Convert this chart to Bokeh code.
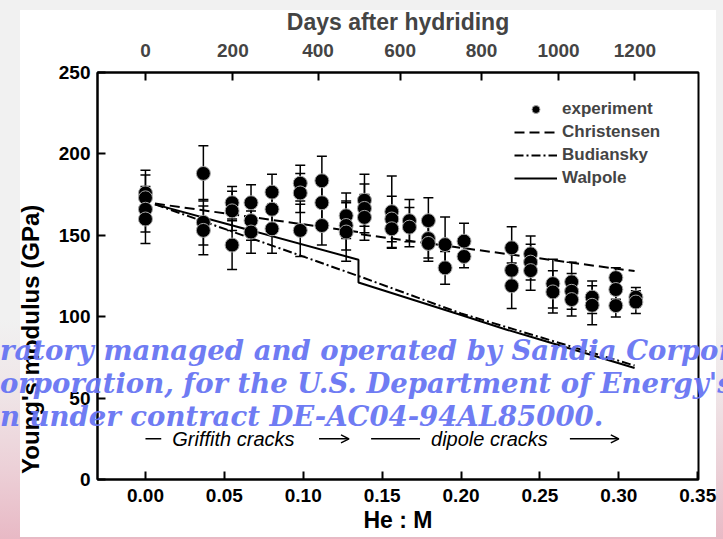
from bokeh.plotting import figure
from bokeh.layouts import column
from bokeh.models import (Range1d, LinearAxis, FixedTicker, Whisker, ColumnDataSource,
                          Legend, LegendItem, Label, Arrow, OpenHead, TeeHead,
                          NumeralTickFormatter, Div)
from bokeh.embed import file_html
from bokeh.resources import INLINE

# ---------------- data ----------------
# experiment: He:M ratio, Young's modulus (GPa) and error (GPa)
exp_x = [0.0, 0.0, 0.0, 0.0,
         0.0367, 0.0367, 0.0367,
         0.0549, 0.0549, 0.0549,
         0.0669, 0.0669, 0.0669,
         0.0802, 0.0802, 0.0802,
         0.0981, 0.0981, 0.0981,
         0.1118, 0.1118, 0.1118,
         0.1272, 0.1272, 0.1272,
         0.1388, 0.1388, 0.1388,
         0.1561, 0.1561, 0.1561,
         0.1673, 0.1673,
         0.1793, 0.1793, 0.1793,
         0.1899, 0.1899,
         0.2019, 0.2019,
         0.2321, 0.2321, 0.2321,
         0.2441, 0.2441, 0.2441,
         0.2582, 0.2582,
         0.2701, 0.2701, 0.2701,
         0.2831, 0.2831,
         0.2981, 0.2981, 0.2981,
         0.3108, 0.3108]
exp_E = [176, 173, 166, 160,
         188, 158, 153,
         170, 165, 144,
         170, 159, 152,
         176.5, 166, 154,
         182, 176, 153,
         183.5, 170, 156,
         162, 156, 152,
         171.5, 166.5, 161,
         164.5, 160, 154,
         159, 155,
         159, 148, 145,
         144.3, 130,
         146.4, 137,
         142.3, 128.5, 119,
         138.6, 133.5, 128.3,
         120.3, 115.2,
         121.4, 115.6, 110.5,
         112, 107,
         124, 116.7, 106.8,
         112, 109]
exp_err = [14, 14, 14, 15,
           17, 14, 15,
           10, 12, 15,
           11, 12, 13,
           11, 12, 15,
           11, 12, 16,
           15, 13, 12,
           14, 15, 18,
           16, 15, 14,
           22, 14, 12,
           13, 12,
           14, 12, 11,
           17, 10,
           11, 7,
           13, 12, 14,
           11, 11, 12,
           15, 13,
           12, 11, 10,
           10, 12,
           6, 6, 7,
           6, 7]

# model curves
chr_x = [0.006, 0.135, 0.135, 0.310]
chr_y = [169.5, 152.0, 150.8, 128.0]
bud_x = [0.006, 0.135, 0.200, 0.310]
bud_y = [169.0, 125.0, 102.0, 70.0]
wal_x = [0.006, 0.135, 0.135, 0.149, 0.200, 0.229, 0.250, 0.310]
wal_y = [169.0, 135.0, 121.0, 116.7, 101.0, 92.0, 86.0, 68.5]

# ticks
hem_ticks = [0.0, 0.05, 0.10, 0.15, 0.20, 0.25, 0.30, 0.35]
e_ticks = [0, 50, 100, 150, 200, 250]
days_labels = ["0", "200", "400", "600", "800", "1000", "1200"]
days_pos = [0.0, 0.0554, 0.1094, 0.1614, 0.2130, 0.2618, 0.3102]

# watermark text of the slide, laid over the chart
wm_lines = ["ratory managed and operated by Sandia Corpor",
            "orporation, for the U.S. Department of Energy's",
            "n under contract DE-AC04-94AL85000."]

FONT = "Liberation Sans"
NBSP = "\u00a0"

# ---------------- main figure ----------------
p = figure(width=723, height=539, x_range=Range1d(-0.0304, 0.3505), y_range=Range1d(0, 250),
           output_backend="svg", toolbar_location=None,
           min_border_left=97, min_border_right=25, min_border_top=72, min_border_bottom=60,
           x_axis_label="He : M", y_axis_label="Young's modulus (GPa)" + NBSP * 19)
p.border_fill_alpha = 0
p.background_fill_color = "white"
p.styles = {"background": "linear-gradient(#ffffff, #ffffff) 20px 10px / 696px 527px no-repeat, "
                          "linear-gradient(to top, #e8b9c5 0px, #ecd0d7 70px, #efe6e8 150px, #f1f1f1 220px)"}
p.outline_line_color = "black"
p.outline_line_width = 2
p.grid.visible = False

for ax in (p.xaxis[0], p.yaxis[0]):
    ax.axis_line_width = 2
    ax.major_tick_line_width = 2
    ax.major_tick_in = 8
    ax.major_tick_out = 0
    ax.minor_tick_line_color = None
    ax.major_label_text_font = FONT
    ax.major_label_text_font_style = "bold"
    ax.major_label_text_font_size = "19px"
    ax.major_label_text_color = "black"
    ax.axis_label_text_font = FONT
    ax.axis_label_text_font_style = "bold"
    ax.axis_label_text_font_size = "23px"
    ax.axis_label_text_color = "black"

p.xaxis[0].ticker = FixedTicker(ticks=hem_ticks)
p.xaxis[0].formatter = NumeralTickFormatter(format="0.00")
p.xaxis[0].major_label_standoff = 9
p.xaxis[0].axis_label_standoff = 2
p.yaxis[0].ticker = FixedTicker(ticks=e_ticks)
p.yaxis[0].major_label_standoff = 7
p.yaxis[0].axis_label_standoff = 12
p.yaxis[0].axis_label_text_font_size = "24px"

top = LinearAxis(ticker=FixedTicker(ticks=days_pos),
                 major_label_overrides={pos: lab for pos, lab in zip(days_pos, days_labels)},
                 axis_label="Days after hydriding")
top.axis_line_width = 2
top.major_tick_line_width = 2
top.major_tick_in = 8
top.major_tick_out = 0
top.minor_tick_line_color = None
top.major_label_text_font = FONT
top.major_label_text_font_style = "bold"
top.major_label_text_font_size = "19px"
top.major_label_standoff = 16
top.axis_label_text_font = FONT
top.axis_label_text_font_style = "bold"
top.axis_label_text_font_size = "23px"
top.axis_label_standoff = 6
p.add_layout(top, "above")

src = ColumnDataSource(dict(x=exp_x, E=exp_E,
                            upper=[e + d for e, d in zip(exp_E, exp_err)],
                            lower=[e - d for e, d in zip(exp_E, exp_err)]))
wh = Whisker(base="x", upper="upper", lower="lower", source=src, line_color="black", line_width=1.5,
             upper_head=TeeHead(size=10, line_width=1.5, line_color="black"),
             lower_head=TeeHead(size=10, line_width=1.5, line_color="black"))
p.add_layout(wh)

r_chr = p.line(chr_x, chr_y, line_color="black", line_width=2, line_dash="10 5")
r_bud = p.line(bud_x, bud_y, line_color="black", line_width=2, line_dash="9 3 2 3")
r_wal = p.line(wal_x, wal_y, line_color="black", line_width=2)
r_exp = p.scatter("x", "E", source=src, marker="circle", size=14, fill_color="black",
                  line_color="#a8a8a8", line_width=1)

legend = Legend(items=[LegendItem(label="experiment", renderers=[r_exp]),
                       LegendItem(label="Christensen", renderers=[r_chr]),
                       LegendItem(label="Budiansky", renderers=[r_bud]),
                       LegendItem(label="Walpole", renderers=[r_wal])],
                location=(417, 291), background_fill_alpha=0, border_line_alpha=0,
                label_text_font=FONT, label_text_font_style="bold", label_text_font_size="17px",
                glyph_width=43, glyph_height=20, label_standoff=5, spacing=3, padding=0, margin=0,
                label_height=20)
p.add_layout(legend)

ann_y = 25
p.add_layout(Arrow(x_start=0.0, x_end=0.010, y_start=ann_y, y_end=ann_y, end=None, line_width=1.5))
p.add_layout(Label(x=0.017, y=ann_y, text="Griffith cracks", text_font=FONT, text_font_style="italic",
                   text_font_size="20px", text_baseline="middle", text_color="black"))
p.add_layout(Arrow(x_start=0.110, x_end=0.129, y_start=ann_y, y_end=ann_y, line_width=1.5,
                   end=OpenHead(size=8, line_width=1.5)))
p.add_layout(Arrow(x_start=0.143, x_end=0.174, y_start=ann_y, y_end=ann_y, end=None, line_width=1.5))
p.add_layout(Label(x=0.181, y=ann_y, text="dipole cracks", text_font=FONT, text_font_style="italic",
                   text_font_size="20px", text_baseline="middle", text_color="black"))
p.add_layout(Arrow(x_start=0.269, x_end=0.300, y_start=ann_y, y_end=ann_y, line_width=1.5,
                   end=OpenHead(size=8, line_width=1.5)))

# ---------------- watermark overlay (HTML text laid over the chart) ----------------
wm_html = "<br>".join(wm_lines)
wm = Div(text=wm_html, width=723, height=108, margin=(-205, 0, 0, 0),
         styles={"position": "relative", "z-index": "10", "overflow": "hidden",
                 "white-space": "nowrap", "font-family": "'DejaVu Serif'", "font-weight": "bold",
                 "font-style": "italic", "font-size": "27.5px", "line-height": "33px",
                 "color": "#6875f3", "opacity": "0.95", "pointer-events": "none"})

layout = column(p, wm, spacing=0)
open("out.html", "w").write(file_html(layout, INLINE))
